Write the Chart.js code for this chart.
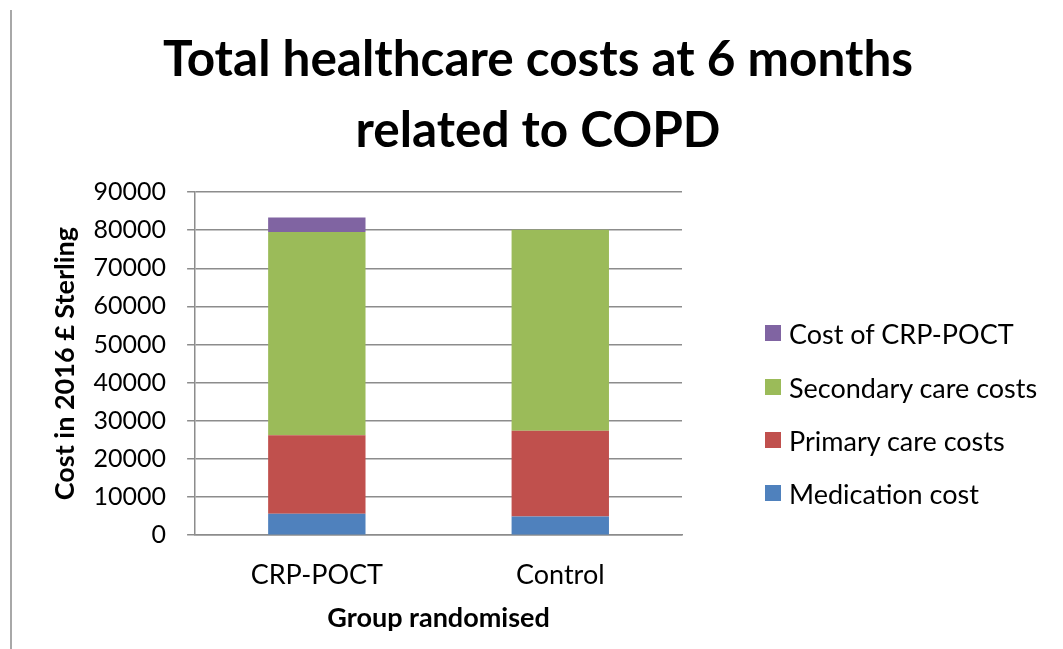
<!DOCTYPE html>
<html>
<head>
<meta charset="utf-8">
<script src="https://cdn.jsdelivr.net/npm/chart.js@4"></script>
<style>
    html, body { margin: 0; padding: 0; background: #fff; }
    #wrap { position: relative; width: 1063px; height: 649px; }
    #frame { position: absolute; left: 10px; top: 10px; bottom: 0; width: 2px; background: #a8a8a8; }
    #title { position: absolute; left: 38px; width: 1000px; top: 22px; text-align: center; white-space: nowrap;
             font-family: Lato, sans-serif; font-weight: bold; font-size: 49.5px; line-height: 71px; color: #000; }
    #legend { position: absolute; left: 765px; top: 0; font-family: Lato, sans-serif; font-size: 27px; color: #000; }
    #legend .item { position: absolute; left: 0; white-space: nowrap; display: flex; align-items: center; }
    #legend .box { width: 16px; height: 16px; margin-right: 8px; }
</style>
</head>
<body>
<div id="wrap">
    <canvas id="costChart"></canvas>
    <div id="frame"></div>
    <div id="title">Total healthcare costs at 6 months<br>related to COPD</div>
    <div id="legend"></div>
</div>
<script>
const groups = ['CRP-POCT', 'Control'];
const medicationCost = [5600, 4900];
const primaryCareCosts = [20600, 22500];
const secondaryCareCosts = [53300, 52700];
const crpPoctCost = [3800, 0];

const seriesNames = ['Medication cost', 'Primary care costs', 'Secondary care costs', 'Cost of CRP-POCT'];
const seriesColors = ['#4F81BD', '#C0504D', '#9BBB59', '#8064A2'];
const seriesValues = [medicationCost, primaryCareCosts, secondaryCareCosts, crpPoctCost];

const gridGrey = '#8c8c8c';

document.addEventListener('DOMContentLoaded', function() {
    Chart.defaults.font.family = 'Lato, sans-serif';
    Chart.defaults.color = '#000';

    const ctx = document.getElementById('costChart').getContext('2d');
    const costChart = new Chart(ctx, {
        type: 'bar',
        data: {
            labels: groups,
            datasets: seriesNames.map((name, i) => ({
                label: name,
                data: seriesValues[i],
                backgroundColor: seriesColors[i],
                borderWidth: 0,
                barPercentage: 0.4,
                categoryPercentage: 1
            }))
        },
        options: {
            responsive: true,
            maintainAspectRatio: false,
            animation: false,
            layout: {
                padding: { top: 192, right: 381, bottom: 28, left: 34 }
            },
            scales: {
                x: {
                    stacked: true,
                    grid: { display: false, drawTicks: false },
                    border: { color: gridGrey, width: 1.5 },
                    ticks: { font: { size: 27 }, padding: 24 },
                    title: {
                        display: true,
                        text: 'Group randomised',
                        // small lineHeight so the title can sit close under the labels
                        font: { size: 27, weight: 'bold', lineHeight: 0.2 },
                        padding: 0
                    }
                },
                y: {
                    stacked: true,
                    min: 0,
                    max: 90000,
                    ticks: {
                        stepSize: 10000,
                        font: { size: 25 },
                        padding: 21,
                        callback: value => String(value)
                    },
                    grid: { color: gridGrey, lineWidth: 1.5, tickLength: 8 },
                    border: { color: gridGrey, width: 1.5 },
                    title: {
                        display: true,
                        text: 'Cost in 2016 £ Sterling',
                        font: { size: 27, weight: 'bold', lineHeight: 0.3 },
                        padding: { top: 27, bottom: 3.5 }
                    }
                }
            },
            plugins: {
                legend: { display: false },
                tooltip: { enabled: false },
                title: { display: false }
            }
        }
    });

    // Legend, listed top to bottom in reverse stack order
    const legend = document.getElementById('legend');
    const rowTops = [333, 387, 440, 493];
    costChart.data.datasets.slice().reverse().forEach((ds, i) => {
        const item = document.createElement('div');
        item.className = 'item';
        item.style.top = (rowTops[i] - 16) + 'px';
        item.style.height = '32px';
        item.innerHTML = '<span class="box" style="background:' + ds.backgroundColor + '"></span>' + ds.label;
        legend.appendChild(item);
    });
});
</script>
</body>
</html>
